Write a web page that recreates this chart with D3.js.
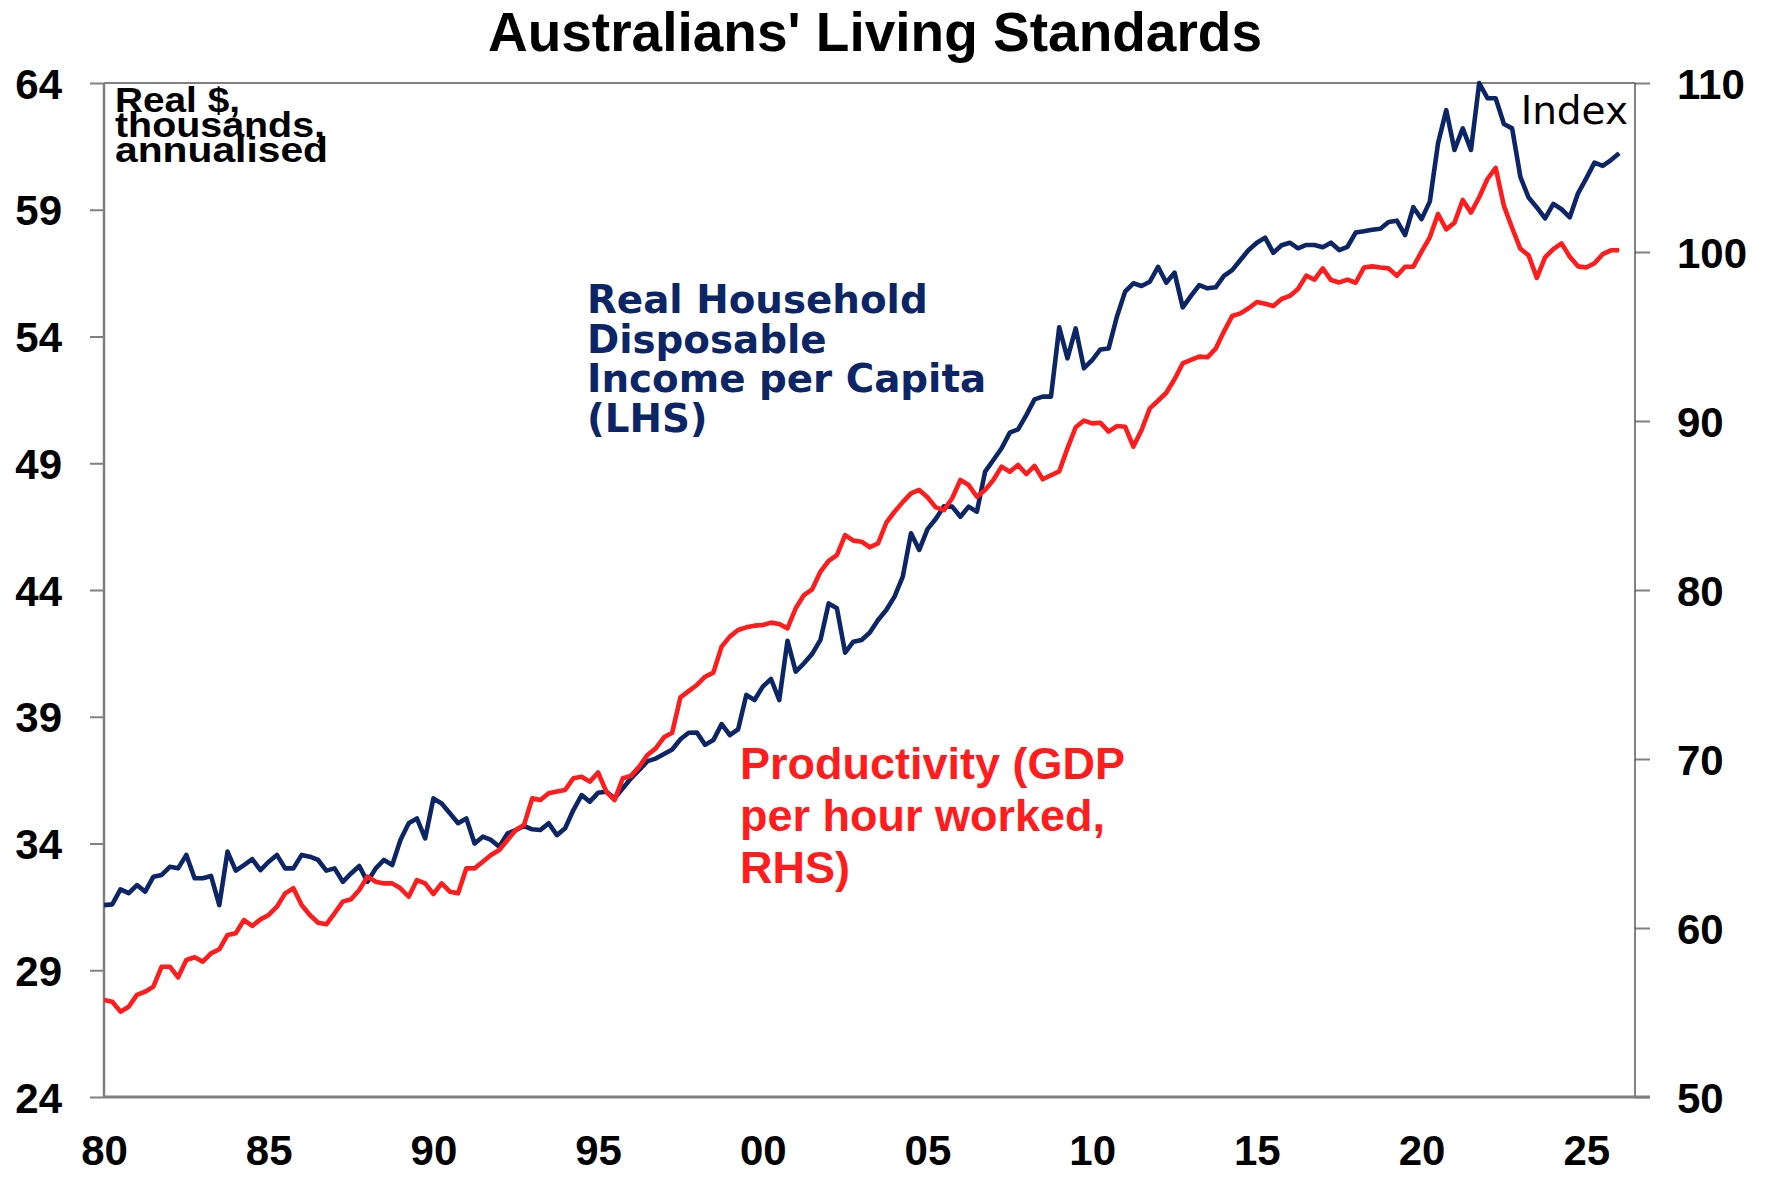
<!DOCTYPE html>
<html><head><meta charset="utf-8">
<script src="https://cdn.jsdelivr.net/npm/d3@7"></script>
<style>body{margin:0;background:#fff}svg{display:block}</style>
</head><body>
<svg id="chart" width="1771" height="1183"></svg>
<script>
// ---- data (quarterly, starting 1980 Q1) ----
const startYear = 1980;
const quarterStep = 0.25;
const incomeLHS = [
31.57,31.6,32.19,32.04,32.36,32.1,32.69,32.76,33.08,33.02,
33.55,32.63,32.63,32.72,31.57,33.68,32.93,33.15,33.38,32.95,
33.28,33.55,33.02,33.02,33.55,33.48,33.35,32.93,33.02,32.49,
32.82,33.11,32.49,33.02,33.35,33.15,34.14,34.8,34.99,34.2,
35.78,35.58,35.19,34.8,34.99,34.0,34.27,34.14,33.87,34.4,
34.53,34.69,34.56,34.53,34.8,34.33,34.6,35.32,35.91,35.65,
36.0,36.04,35.78,36.18,36.57,36.9,37.25,37.35,37.53,37.71,
38.11,38.37,38.38,37.89,38.08,38.71,38.28,38.5,39.86,39.66,
40.19,40.49,39.66,42.0,40.78,41.11,41.48,42.03,43.47,43.28,
41.53,41.96,42.03,42.32,42.82,43.21,43.74,44.53,46.24,45.58,
46.4,46.8,47.3,47.29,46.89,47.29,47.09,48.67,49.13,49.59,
50.21,50.34,50.9,51.52,51.63,51.63,54.36,53.14,54.32,52.75,
53.07,53.49,53.53,54.78,55.77,56.1,55.99,56.16,56.75,56.12,
56.52,55.15,55.6,56.03,55.9,55.94,56.39,56.62,57.02,57.41,
57.7,57.9,57.3,57.6,57.7,57.48,57.61,57.61,57.52,57.7,
57.41,57.54,58.1,58.15,58.21,58.25,58.52,58.57,58.0,59.1,
58.63,59.32,61.62,62.93,61.36,62.21,61.36,64.0,63.4,63.4,
62.38,62.21,60.3,59.48,59.09,58.66,59.23,59.02,58.7,59.65,
60.24,60.86,60.73,60.96,61.23
];
const productivityRHS = [
55.74,55.64,55.05,55.34,56.04,56.23,56.53,57.71,57.71,57.08,
58.11,58.27,58.01,58.5,58.74,59.59,59.69,60.47,60.12,60.51,
60.77,61.26,62.05,62.35,61.36,60.77,60.31,60.22,60.87,61.56,
61.7,62.25,63.04,62.74,62.64,62.64,62.35,61.85,62.84,62.64,
62.01,62.64,62.15,62.05,63.53,63.53,63.92,64.32,64.62,65.21,
65.8,66.09,67.67,67.57,67.97,68.07,68.17,68.86,68.95,68.66,
69.2,68.07,67.57,68.86,69.0,69.55,70.24,70.63,71.28,71.56,
73.65,74.02,74.38,74.87,75.11,76.65,77.24,77.63,77.79,77.89,
77.93,78.07,77.99,77.73,78.92,79.7,80.04,81.08,81.72,82.07,
83.25,82.92,82.86,82.53,82.76,83.98,84.63,85.2,85.72,85.92,
85.49,84.89,84.73,85.43,86.51,86.21,85.52,85.92,86.51,87.3,
87.0,87.4,86.86,87.34,86.55,86.79,87.02,88.38,89.63,90.02,
89.86,89.9,89.37,89.7,89.66,88.48,89.47,90.75,91.2,91.67,
92.47,93.41,93.61,93.81,93.77,94.28,95.29,96.21,96.37,96.67,
97.04,96.94,96.8,97.22,97.4,97.81,98.6,98.36,99.03,98.34,
98.2,98.37,98.18,99.08,99.15,99.08,99.03,98.59,99.13,99.13,
100.02,100.87,102.25,101.34,101.73,103.08,102.33,103.24,104.32,104.98,
102.73,101.42,100.19,99.8,98.47,99.68,100.17,100.51,99.72,99.15,
99.08,99.33,99.87,100.1,100.1
];
const xTickYears = [1980,1985,1990,1995,2000,2005,2010,2015,2020,2025];
const xTickLabels = ["80","85","90","95","00","05","10","15","20","25"];
const leftTicks = [24,29,34,39,44,49,54,59,64];
const rightTicks = [50,60,70,80,90,100,110];
const titleText = "Australians' Living Standards";
const lhsUnitLines = ["Real $,", "thousands,", "annualised"];
const rhsUnitText = "Index";
const incomeLabelLines = ["Real Household", "Disposable", "Income per Capita", "(LHS)"];
const prodLabelLines = ["Productivity (GDP", "per hour worked,", "RHS)"];

const quarters = incomeLHS.map((_, i) => startYear + i * quarterStep);

// ---- layout ----
const L = 104, R = 1635, T = 83, B = 1097;
const NAVY = "#0b2566", RED = "#ff1c1c", AXIS = "#808080";
const svg = d3.select("#chart");

const x = d3.scaleLinear().domain([1980, 2026.48]).range([L, R]);
const yL = d3.scaleLinear().domain([24, 64]).range([B, T]);
const yR = d3.scaleLinear().domain([50, 110]).range([B, T]);

const tickFont = "'Liberation Sans', Arial, sans-serif";

// axes
const gL = svg.append("g").attr("transform", `translate(${L},0)`)
  .call(d3.axisLeft(yL).tickValues(leftTicks).tickSize(14).tickSizeOuter(0).tickPadding(28));
const gR = svg.append("g").attr("transform", `translate(${R},0)`)
  .call(d3.axisRight(yR).tickValues(rightTicks).tickSize(15).tickSizeOuter(0).tickPadding(27));
const gB = svg.append("g").attr("transform", `translate(0,${B})`)
  .call(d3.axisBottom(x).tickValues(xTickYears).tickSize(0).tickSizeOuter(0).tickPadding(38)
    .tickFormat((d, i) => xTickLabels[i]));
[gL, gR, gB].forEach(g => {
  g.select(".domain").remove();
  g.selectAll(".tick line").attr("stroke", AXIS).attr("stroke-width", 2);
  g.selectAll(".tick text").attr("fill", "#000")
    .style("font-family", tickFont).style("font-weight", "bold").style("font-size", "42px");
});
gL.selectAll(".tick text").attr("dy", "0.36em");
gR.selectAll(".tick text").attr("dy", "0.36em");

// frame
svg.append("line").attr("x1", L).attr("x2", R).attr("y1", T).attr("y2", T).attr("stroke", AXIS).attr("stroke-width", 2);
svg.append("line").attr("x1", L).attr("x2", L).attr("y1", T).attr("y2", B).attr("stroke", AXIS).attr("stroke-width", 2.5);
svg.append("line").attr("x1", R).attr("x2", R).attr("y1", T).attr("y2", B).attr("stroke", "#5a5a5a").attr("stroke-width", 1.5);
svg.append("line").attr("x1", L).attr("x2", R + 15).attr("y1", B).attr("y2", B).attr("stroke", AXIS).attr("stroke-width", 3);

// clip
svg.append("clipPath").attr("id", "plot").append("rect")
  .attr("x", L).attr("y", T - 3).attr("width", R - L).attr("height", B - T + 3);

const lineL = d3.line().x((d, i) => x(quarters[i])).y(d => yL(d));
const lineR = d3.line().x((d, i) => x(quarters[i])).y(d => yR(d));

const gPlot = svg.append("g").attr("clip-path", "url(#plot)");
gPlot.append("path").datum(incomeLHS).attr("d", lineL)
  .attr("fill", "none").attr("stroke", NAVY).attr("stroke-width", 4.6).attr("stroke-linejoin", "round");
gPlot.append("path").datum(productivityRHS).attr("d", lineR)
  .attr("fill", "none").attr("stroke", RED).attr("stroke-width", 4.6).attr("stroke-linejoin", "round");

// title
svg.append("text").attr("x", 875).attr("y", 51).attr("text-anchor", "middle")
  .style("font-family", tickFont).style("font-weight", "bold").style("font-size", "55px")
  .text(titleText);

// LHS unit label
const unitWidths = [125, 210, 213];
lhsUnitLines.forEach((t, i) => {
  svg.append("text").attr("x", 115).attr("y", 112 + i * 25)
    .attr("textLength", unitWidths[i]).attr("lengthAdjust", "spacingAndGlyphs")
    .style("font-family", tickFont).style("font-size", "35px").style("font-weight", "bold")
    .attr("fill", "#000").text(t);
});

// RHS unit label
svg.append("text").attr("x", 1628).attr("y", 124).attr("text-anchor", "end")
  .style("font-family", "'DejaVu Sans', sans-serif").style("font-size", "39px")
  .attr("fill", "#000").text(rhsUnitText);

// series labels
incomeLabelLines.forEach((t, i) => {
  svg.append("text").attr("x", 587).attr("y", 313 + i * 39.5)
    .style("font-family", "'DejaVu Sans', sans-serif").style("font-weight", "bold").style("font-size", "38.8px")
    .attr("fill", NAVY).text(t);
});
prodLabelLines.forEach((t, i) => {
  svg.append("text").attr("x", 740).attr("y", 779 + i * 52)
    .style("font-family", tickFont).style("font-weight", "bold").style("font-size", "45px")
    .attr("fill", RED).text(t);
});
</script>
</body></html>
